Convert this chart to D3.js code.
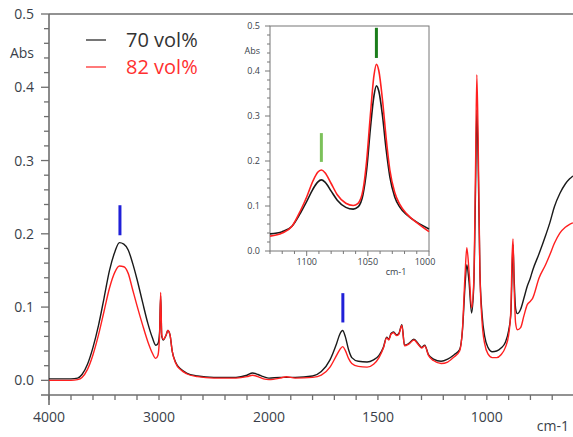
<!DOCTYPE html>
<html lang="en">
<head>
<meta charset="UTF-8" />
<script src="https://d3js.org/d3.v7.min.js"></script>
<style>
  body { margin: 0; background: #fff; }
  text { font-family: "Open Sans", "Noto Sans", sans-serif; fill: #3a3f4a; }
</style>
</head>
<body>
<script>
// main spectrum (cm-1, Abs)
var wavenumbers = [4000,3900,3800,3740,3700,3650,3600,3550,3500,3450,3400,3360,3320,3280,3240,3200,3150,3100,3060,3030,3010,2995,2985,2975,2960,2935,2920,2900,2880,2850,2800,2750,2650,2500,2300,2200,2150,2100,2050,2000,1950,1920,1880,1800,1760,1720,1690,1675,1662,1650,1635,1620,1590,1550,1520,1495,1475,1460,1450,1440,1428,1415,1404,1390,1378,1360,1335,1315,1300,1285,1268,1245,1210,1180,1150,1125,1112,1100,1092,1082,1070,1060,1052,1046,1040,1032,1022,1010,995,975,955,935,915,900,890,884,880,875,868,860,845,830,815,800,790,760,730,710,690,665,640,620,605];
var abs70 = [0.002,0.002,0.002,0.003,0.008,0.022,0.045,0.075,0.112,0.150,0.176,0.188,0.186,0.178,0.160,0.138,0.107,0.077,0.058,0.048,0.050,0.065,0.115,0.060,0.055,0.062,0.068,0.062,0.040,0.025,0.015,0.010,0.006,0.004,0.004,0.007,0.010,0.008,0.005,0.003,0.004,0.004,0.004,0.006,0.012,0.028,0.050,0.063,0.068,0.060,0.042,0.031,0.026,0.025,0.028,0.034,0.045,0.059,0.056,0.064,0.066,0.062,0.064,0.076,0.048,0.050,0.056,0.050,0.045,0.048,0.035,0.029,0.026,0.029,0.035,0.042,0.068,0.130,0.158,0.135,0.092,0.130,0.260,0.369,0.300,0.150,0.090,0.060,0.045,0.039,0.040,0.044,0.052,0.068,0.090,0.150,0.185,0.140,0.098,0.091,0.097,0.112,0.128,0.140,0.150,0.173,0.198,0.216,0.237,0.255,0.268,0.275,0.279];
var abs82 = [0.000,0.000,0.000,0.001,0.004,0.015,0.035,0.062,0.094,0.126,0.148,0.156,0.155,0.146,0.124,0.102,0.076,0.052,0.037,0.030,0.034,0.060,0.120,0.062,0.056,0.062,0.068,0.062,0.040,0.024,0.014,0.009,0.005,0.003,0.003,0.005,0.007,0.005,0.002,0.001,0.003,0.005,0.003,0.004,0.007,0.018,0.034,0.042,0.046,0.041,0.030,0.023,0.019,0.018,0.022,0.031,0.044,0.058,0.055,0.063,0.065,0.061,0.063,0.075,0.047,0.049,0.055,0.049,0.044,0.047,0.034,0.027,0.023,0.025,0.032,0.040,0.070,0.145,0.181,0.150,0.099,0.135,0.290,0.417,0.330,0.150,0.080,0.050,0.036,0.031,0.031,0.035,0.045,0.062,0.095,0.170,0.193,0.130,0.078,0.069,0.072,0.088,0.103,0.108,0.112,0.140,0.158,0.172,0.187,0.201,0.209,0.213,0.215];

// inset (1130-1000 cm-1)
var insetWn = [1130,1120,1112,1105,1100,1095,1091,1088,1085,1080,1075,1068,1062,1058,1054,1051,1048,1045,1043,1041,1038,1035,1032,1028,1024,1018,1010,1000];
var insetAbs70 = [0.038,0.043,0.055,0.085,0.110,0.137,0.153,0.158,0.153,0.133,0.113,0.097,0.093,0.098,0.125,0.180,0.270,0.345,0.367,0.355,0.300,0.225,0.165,0.120,0.098,0.080,0.064,0.049];
var insetAbs82 = [0.033,0.040,0.055,0.090,0.120,0.155,0.175,0.180,0.174,0.150,0.125,0.106,0.101,0.106,0.135,0.200,0.300,0.390,0.415,0.400,0.335,0.250,0.180,0.130,0.104,0.082,0.063,0.043];

var series = ["70 vol%", "82 vol%"];
var colors = ["#1a1a1a", "#ff2020"];
var xTickLabels = [4000, 3000, 2000, 1500, 1000];
var yTickLabels = [0.0, 0.1, 0.2, 0.3, 0.4, 0.5];
var insetXTicks = [1100, 1050, 1000];

// band markers
var mainMarks = [{wn: 3355, lo: 0.198, hi: 0.239}, {wn: 1661, lo: 0.079, hi: 0.119}];
var insetMarks = [{wn: 1088, lo: 0.198, hi: 0.262, c: "#7cc15a"}, {wn: 1043, lo: 0.429, hi: 0.496, c: "#1b7d1b"}];

var W = 573, H = 437;
var svg = d3.select("body").append("svg").attr("width", W).attr("height", H);

// x axis is compressed 2x above 2000 cm-1, like the instrument plot
var x = d3.scaleLinear().domain([4000, 2000, 600]).range([49, 269, 574]);
var y = d3.scaleLinear().domain([-0.02, 0.5]).range([395, 14]);

var axisCol = "#6e6e6e";

// frame
svg.append("line").attr("x1", 49).attr("x2", W).attr("y1", 14).attr("y2", 14)
  .attr("stroke", axisCol).attr("stroke-width", 1.6);
svg.append("line").attr("x1", 49).attr("x2", 49).attr("y1", 14).attr("y2", 405)
  .attr("stroke", axisCol).attr("stroke-width", 1.6);
svg.append("line").attr("x1", 41).attr("x2", W).attr("y1", 395).attr("y2", 395)
  .attr("stroke", axisCol).attr("stroke-width", 1.6);

// y ticks
var yMinor = d3.range(0, 26).map(function(i) { return i * 0.02; });
svg.selectAll(".ymin").data(yMinor).enter().append("line")
  .attr("x1", function(d) { return Math.round(d * 100) % 10 === 0 ? 41 : 44; })
  .attr("x2", 49)
  .attr("y1", function(d) { return y(d); })
  .attr("y2", function(d) { return y(d); })
  .attr("stroke", axisCol).attr("stroke-width", 1.3);
svg.selectAll(".ylab").data(yTickLabels).enter().append("text")
  .attr("x", 34).attr("y", function(d) { return y(d) + 5; })
  .attr("text-anchor", "end").attr("font-size", 14)
  .text(function(d) { return d.toFixed(1); });
svg.append("text").attr("x", 34).attr("y", 58).attr("text-anchor", "end")
  .attr("font-size", 14).text("Abs");

// x ticks
var xMinor = d3.range(4000, 2000, -200).concat(d3.range(2000, 599, -100));
svg.selectAll(".xmin").data(xMinor).enter().append("line")
  .attr("x1", function(d) { return x(d); })
  .attr("x2", function(d) { return x(d); })
  .attr("y1", 395).attr("y2", 400)
  .attr("stroke", axisCol).attr("stroke-width", 1.3);
svg.selectAll(".xlab").data(xTickLabels).enter().append("text")
  .attr("x", function(d) { return x(d); }).attr("y", 422)
  .attr("text-anchor", "middle").attr("font-size", 14)
  .text(function(d) { return d; });
svg.append("text").attr("x", 569).attr("y", 431).attr("text-anchor", "end")
  .attr("font-size", 14).text("cm-1");

// spectra
var mainData = [abs70, abs82].map(function(vals) {
  return vals.map(function(v, i) { return [wavenumbers[i], v]; });
});
var line = d3.line()
  .x(function(d) { return x(d[0]); })
  .y(function(d) { return y(d[1]); })
  .curve(d3.curveMonotoneX);
svg.selectAll(".spec").data(mainData).enter().append("path")
  .attr("d", line)
  .attr("fill", "none")
  .attr("stroke", function(d, i) { return colors[i]; })
  .attr("stroke-width", 1.4);

svg.selectAll(".mk").data(mainMarks).enter().append("line")
  .attr("x1", function(d) { return x(d.wn); })
  .attr("x2", function(d) { return x(d.wn); })
  .attr("y1", function(d) { return y(d.lo); })
  .attr("y2", function(d) { return y(d.hi); })
  .attr("stroke", "#2020d8").attr("stroke-width", 3);

// legend
series.forEach(function(s, i) {
  var ly = 40 + i * 27;
  svg.append("line").attr("x1", 86).attr("x2", 106).attr("y1", ly).attr("y2", ly)
    .attr("stroke", colors[i]).attr("stroke-width", 1.2);
  svg.append("text").attr("x", 126).attr("y", ly + 7).attr("font-size", 20)
    .style("fill", i === 0 ? "#333" : "#ff3030").text(s);
});

// inset
var ix = d3.scaleLinear().domain([1130, 1000]).range([270, 429]);
var iy = d3.scaleLinear().domain([0, 0.5]).range([251, 26]);
var inset = svg.append("g");
inset.append("rect").attr("x", 232).attr("y", 20).attr("width", 206).attr("height", 258)
  .attr("fill", "#fff");
inset.append("rect").attr("x", 270).attr("y", 26).attr("width", 159).attr("height", 225)
  .attr("fill", "none").attr("stroke", "#777").attr("stroke-width", 1);
inset.selectAll(".iyt").data(d3.range(0, 26).map(function(i) { return i * 0.02; })).enter().append("line")
  .attr("x1", function(d) { return Math.round(d * 100) % 10 === 0 ? 265 : 267; })
  .attr("x2", 270)
  .attr("y1", function(d) { return iy(d); })
  .attr("y2", function(d) { return iy(d); })
  .attr("stroke", "#777").attr("stroke-width", 1);
inset.selectAll(".iyl").data(yTickLabels).enter().append("text")
  .attr("x", 260).attr("y", function(d) { return iy(d) + 3; })
  .attr("text-anchor", "end").attr("font-size", 9)
  .text(function(d) { return d.toFixed(1); });
inset.append("text").attr("x", 260).attr("y", 54).attr("text-anchor", "end")
  .attr("font-size", 9).text("Abs");
inset.selectAll(".ixt").data(d3.range(1130, 999, -10)).enter().append("line")
  .attr("x1", function(d) { return ix(d); })
  .attr("x2", function(d) { return ix(d); })
  .attr("y1", 251).attr("y2", function(d) { return d % 50 === 0 ? 256 : 254; })
  .attr("stroke", "#777").attr("stroke-width", 1);
inset.selectAll(".ixl").data(insetXTicks).enter().append("text")
  .attr("x", function(d) { return d === 1000 ? ix(d) - 4 : ix(d); }).attr("y", 265)
  .attr("text-anchor", "middle").attr("font-size", 9)
  .text(function(d) { return d; });
inset.append("text").attr("x", 396).attr("y", 275).attr("text-anchor", "middle")
  .attr("font-size", 9).text("cm-1");

var insetData = [insetAbs70, insetAbs82].map(function(vals) {
  return vals.map(function(v, i) { return [insetWn[i], v]; });
});
var iline = d3.line()
  .x(function(d) { return ix(d[0]); })
  .y(function(d) { return iy(d[1]); })
  .curve(d3.curveMonotoneX);
inset.selectAll(".ispec").data(insetData).enter().append("path")
  .attr("d", iline)
  .attr("fill", "none")
  .attr("stroke", function(d, i) { return colors[i]; })
  .attr("stroke-width", 1.6);
inset.selectAll(".imk").data(insetMarks).enter().append("line")
  .attr("x1", function(d) { return ix(d.wn); })
  .attr("x2", function(d) { return ix(d.wn); })
  .attr("y1", function(d) { return iy(d.lo); })
  .attr("y2", function(d) { return iy(d.hi); })
  .attr("stroke", function(d) { return d.c; }).attr("stroke-width", 3);
</script>
</body>
</html>
